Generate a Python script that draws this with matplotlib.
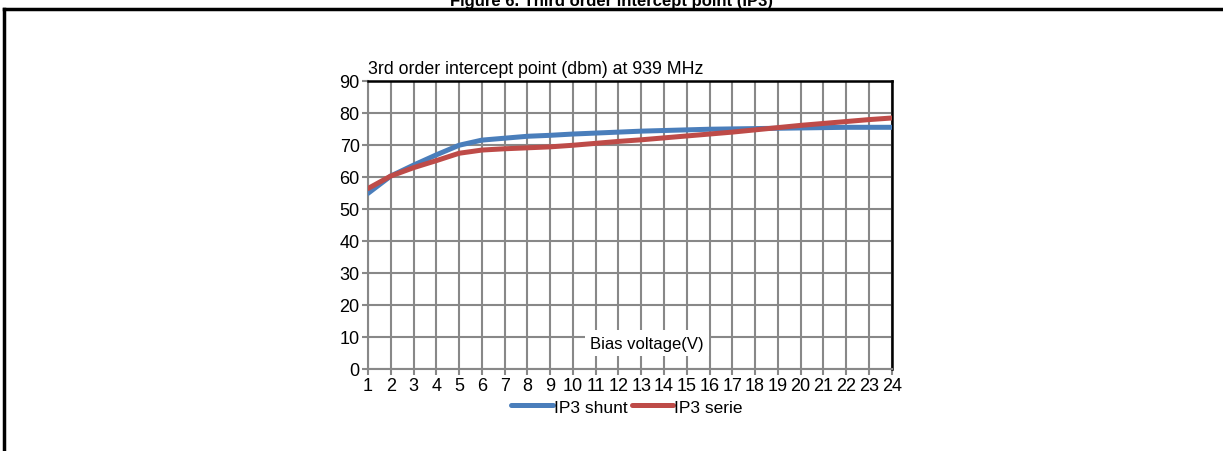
import matplotlib
matplotlib.use("Agg")
import matplotlib.pyplot as plt
from matplotlib.lines import Line2D

plt.rcParams['font.family'] = ['Liberation Sans', 'DejaVu Sans']

bias_v = list(range(1, 25))
ip3_shunt = [54.8, 60.2, 63.6, 66.8, 69.8, 71.4, 72.0, 72.6, 72.9, 73.3, 73.6, 73.9,
             74.2, 74.4, 74.6, 74.8, 74.9, 75.0, 75.1, 75.2, 75.3, 75.4, 75.4, 75.4]
ip3_serie = [56.3, 60.2, 62.8, 65.0, 67.3, 68.3, 68.7, 69.0, 69.3, 69.8, 70.4, 71.0,
             71.5, 72.1, 72.7, 73.3, 73.9, 74.6, 75.3, 76.0, 76.6, 77.2, 77.8, 78.3]
y_ticks = [0, 10, 20, 30, 40, 50, 60, 70, 80, 90]

fig = plt.figure(figsize=(12.23, 4.52), dpi=100)

# outer frame (top and left edges visible)
fig.add_artist(Line2D([3.5/1223, 1.0], [1-10/452, 1-10/452], transform=fig.transFigure,
                      color='black', lw=2.5))
fig.add_artist(Line2D([3.5/1223, 3.5/1223], [1-10/452, 0.0], transform=fig.transFigure,
                      color='black', lw=2.5))
fig.text(612/1223, 1-6/452, 'Figure 6. Third order intercept point (IP3)', ha='center',
         va='baseline', fontsize=12, fontweight='bold')

ax = fig.add_axes([368/1223, 1-370/452, (891.7-368)/1223, (370-81.5)/452])
blue = '#4a7ebb'
red = '#be4b48'
l1, = ax.plot(bias_v, ip3_shunt, color=blue, lw=3.6, solid_capstyle='round', label='IP3 shunt', zorder=3)
l2, = ax.plot(bias_v, ip3_serie, color=red, lw=3.6, solid_capstyle='round', label='IP3 serie', zorder=3)

ax.set_xlim(1, 24)
ax.set_ylim(0, 90)
ax.set_xticks(bias_v)
ax.set_yticks(y_ticks)
ax.grid(True, color='#888888', lw=1.5)
ax.set_axisbelow(True)
for s in ['left', 'bottom']:
    ax.spines[s].set_color('#888888')
    ax.spines[s].set_linewidth(1.5)
for s in ['top', 'right']:
    ax.spines[s].set_color('black')
    ax.spines[s].set_linewidth(1.8)
ax.tick_params(axis='both', colors='#888888', length=4, width=1.5, labelsize=13,
               labelcolor='black', pad=2)

ax.text(0, 1.012, '3rd order intercept point (dbm) at 939 MHz', transform=ax.transAxes,
        ha='left', va='bottom', fontsize=12.8)
ax.text(13.25, 8.0, 'Bias voltage(V)', ha='center', va='center', fontsize=12, zorder=4,
        bbox=dict(facecolor='white', edgecolor='none', pad=4))

fig.legend(handles=[l1, l2], loc='center', bbox_to_anchor=(627/1223, 1-408/452), ncol=2,
           frameon=False, fontsize=12.5, handlelength=2.4, handletextpad=0.05, columnspacing=0.25,
           borderpad=0)

fig.savefig('out.png', dpi=100)
